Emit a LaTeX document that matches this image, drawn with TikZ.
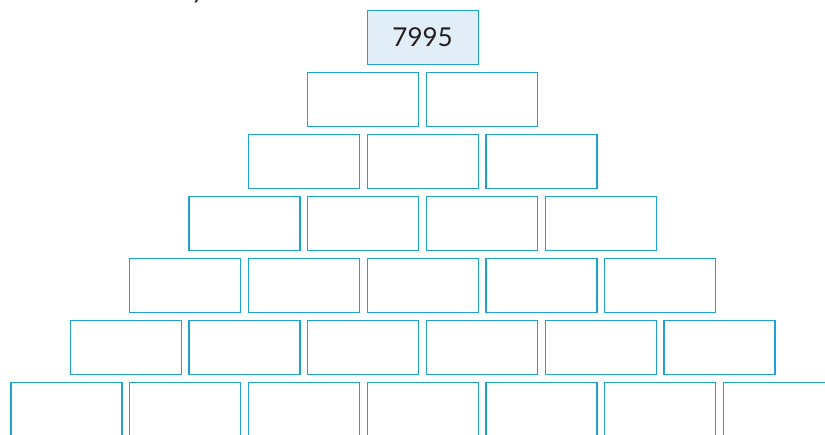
\documentclass[tikz,border=0pt]{standalone}
\usepackage{fontspec}
\setmainfont{Lato}
\definecolor{brick}{HTML}{1EA2D2}
\definecolor{brickfill}{HTML}{E1EEF8}
\definecolor{txt}{HTML}{231F20}
\begin{document}
\begin{tikzpicture}[x=1pt,y=-1pt,
  brickbox/.style={draw=brick,line width=1.3pt,minimum width=111pt,minimum height=54pt,inner sep=0pt,anchor=north west,font=\fontsize{26}{30}\selectfont,text=txt}]
\useasboundingbox (0,0) rectangle (825,434);
\node[anchor=base,text=txt,font=\fontsize{26}{30}\selectfont] (frag) at (198,-2) {y};
\node[brickbox,fill=brickfill] (b00) at (366.5,9.5) {7995};
\foreach \r in {1,...,6}{
  \pgfmathsetmacro{\ystart}{9.5+62*\r}
  \foreach \c in {0,...,\r}{
    \pgfmathsetmacro{\xstart}{366.5-59.35*\r+118.7*\c}
    \node[brickbox] (b\r\c) at (\xstart,\ystart) {};
  }
}
\end{tikzpicture}
\end{document}
